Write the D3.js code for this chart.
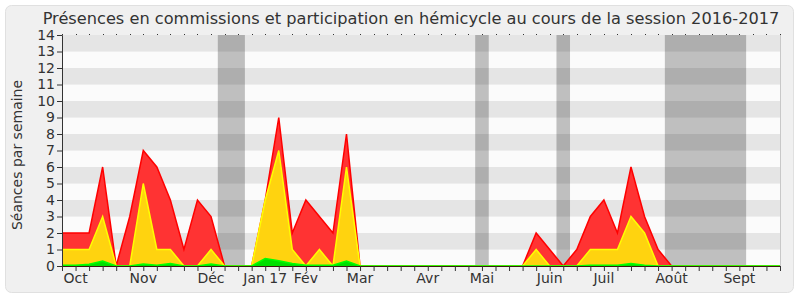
<!DOCTYPE html>
<html>
<head>
<meta charset="utf-8">
<script src="https://cdn.jsdelivr.net/npm/d3@7"></script>
<style>
  body { margin: 0; background: #fff; }
  svg text { font-family: 'DejaVu Sans', Verdana, sans-serif; fill: #333; }
</style>
</head>
<body>
<svg id="chart" width="800" height="300"></svg>
<script>
// weekly values, session 2016-2017 (54 weeks, index 0 = first week of Oct)
var commissions = [2, 2, 2, 6, 0, 3, 7, 6, 4, 1, 4, 3, 0, 0, 0, 4, 9, 2, 4, 3, 2, 8, 0,
  0, 0, 0, 0, 0, 0, 0, 0, 0, 0, 0, 0, 2, 1, 0, 1, 3, 4, 2, 6, 3, 1, 0,
  0, 0, 0, 0, 0, 0, 0, 0]
var hemicycle = [1, 1, 1, 3, 0, 0, 5, 1, 1, 0, 0, 1, 0, 0, 0, 4, 7, 1, 0, 1, 0, 6, 0,
  0, 0, 0, 0, 0, 0, 0, 0, 0, 0, 0, 0, 1, 0, 0, 0, 1, 1, 1, 3, 2, 0, 0,
  0, 0, 0, 0, 0, 0, 0, 0]
var interventions = [0.05, 0.05, 0.1, 0.3, 0, 0, 0.12, 0.05, 0.15, 0, 0, 0.12, 0, 0, 0, 0.45, 0.32, 0.15, 0.05, 0.05, 0.05, 0.3, 0,
  0, 0, 0, 0, 0, 0, 0, 0, 0, 0, 0, 0, 0, 0, 0, 0, 0.05, 0.05, 0.05, 0.15, 0.05, 0, 0,
  0, 0, 0, 0, 0, 0, 0, 0]

var months = ['Oct', 'Nov', 'Déc', 'Jan 17', 'Fév', 'Mar', 'Avr', 'Mai', 'Juin', 'Juil', 'Août', 'Sept']
var monthWeeks = [1, 6, 11, 15, 18, 22, 27, 31, 36, 40, 45, 50]

// parliamentary holidays, in weeks
var vacances = [[11.5, 13.5], [30.5, 31.5], [36.5, 37.5], [44.5, 50.5]]

var nWeeks = commissions.length

var svg = d3.select('#chart')

var margin = { left: 62, right: 20, top: 35, bottom: 34 }
var width = 800, height = 300

var x = d3.scaleLinear()
  .domain([0, nWeeks - 1])
  .range([margin.left, width - margin.right])

var y = d3.scaleLinear()
  .domain([0, 14])
  .range([height - margin.bottom, margin.top])

// panel
svg.append('rect')
  .attr('x', 5.5).attr('y', 5.5)
  .attr('width', 788).attr('height', 287)
  .attr('rx', 6)
  .attr('fill', '#f0f0f0')
  .attr('stroke', '#e0e0e0')

// stripes
var g = svg.append('g')
g.selectAll('rect.stripe')
  .data(d3.range(0, 14))
  .join('rect')
  .attr('class', 'stripe')
  .attr('x', x(0))
  .attr('width', x(nWeeks - 1) - x(0))
  .attr('y', (d) => y(d + 1))
  .attr('height', (d) => y(d) - y(d + 1))
  .attr('fill', (d) => d % 2 ? '#e5e5e5' : '#fbfbfb')

// holiday bands
g.selectAll('rect.vac')
  .data(vacances)
  .join('rect')
  .attr('class', 'vac')
  .attr('x', (d) => x(d[0]))
  .attr('width', (d) => x(d[1]) - x(d[0]))
  .attr('y', y(14))
  .attr('height', y(0) - y(14))
  .attr('fill', 'rgba(0,0,0,0.24)')

// areas
var drawArea = function (values, fill, stroke) {
  var area = d3.area()
    .x((d, i) => x(i))
    .y0(y(0))
    .y1((d) => y(d))
  var line = d3.line()
    .x((d, i) => x(i))
    .y((d) => y(d))
  g.append('path')
    .datum(values)
    .attr('d', area)
    .attr('fill', fill)
  g.append('path')
    .datum(values)
    .attr('d', line)
    .attr('fill', 'none')
    .attr('stroke', stroke)
    .attr('stroke-width', 1.5)
}
drawArea(commissions, '#ff3333', '#ff0000')
drawArea(hemicycle, '#ffd30f', '#ffff00')
drawArea(interventions, '#00e000', '#00ff00')

// right border
svg.append('line')
  .attr('x1', x(nWeeks - 1) + 0.5).attr('x2', x(nWeeks - 1) + 0.5)
  .attr('y1', y(14)).attr('y2', y(0))
  .attr('stroke', '#c8c8c8')

// top dots
svg.append('g')
  .selectAll('rect')
  .data(d3.range(0, nWeeks))
  .join('rect')
  .attr('x', (d) => Math.round(x(d)))
  .attr('y', y(14) - 1)
  .attr('width', 1).attr('height', 1)
  .attr('fill', '#333')

// x axis
var xAxis = svg.append('g')
  .attr('transform', 'translate(0,' + y(0) + ')')
  .call(d3.axisBottom(x).tickValues(d3.range(0, nWeeks)).tickSize(5).tickFormat(''))
xAxis.select('.domain').attr('stroke', '#3a1a10')
xAxis.selectAll('.tick line').attr('stroke', '#333')

svg.append('g')
  .selectAll('text')
  .data(months)
  .join('text')
  .attr('x', (d, i) => x(monthWeeks[i]))
  .attr('y', 283)
  .attr('text-anchor', 'middle')
  .attr('font-size', 14)
  .text((d) => d)

// y axis
var yAxis = svg.append('g')
  .attr('transform', 'translate(' + x(0) + ',0)')
  .call(d3.axisLeft(y).ticks(14).tickSize(5).tickPadding(2))
yAxis.select('.domain').attr('stroke', '#333')
yAxis.selectAll('.tick line').attr('stroke', '#333')
yAxis.selectAll('.tick text')
  .attr('font-size', 14)
  .attr('font-family', "'DejaVu Sans', Verdana, sans-serif")
  .attr('fill', '#333')

svg.append('text')
  .attr('transform', 'translate(22,155) rotate(-90)')
  .attr('text-anchor', 'middle')
  .attr('font-size', 14)
  .text('Séances par semaine')

// title
svg.append('text')
  .attr('x', 411)
  .attr('y', 24)
  .attr('text-anchor', 'middle')
  .attr('font-size', 16.2)
  .text('Présences en commissions et participation en hémicycle au cours de la session 2016-2017')
</script>
</body>
</html>
